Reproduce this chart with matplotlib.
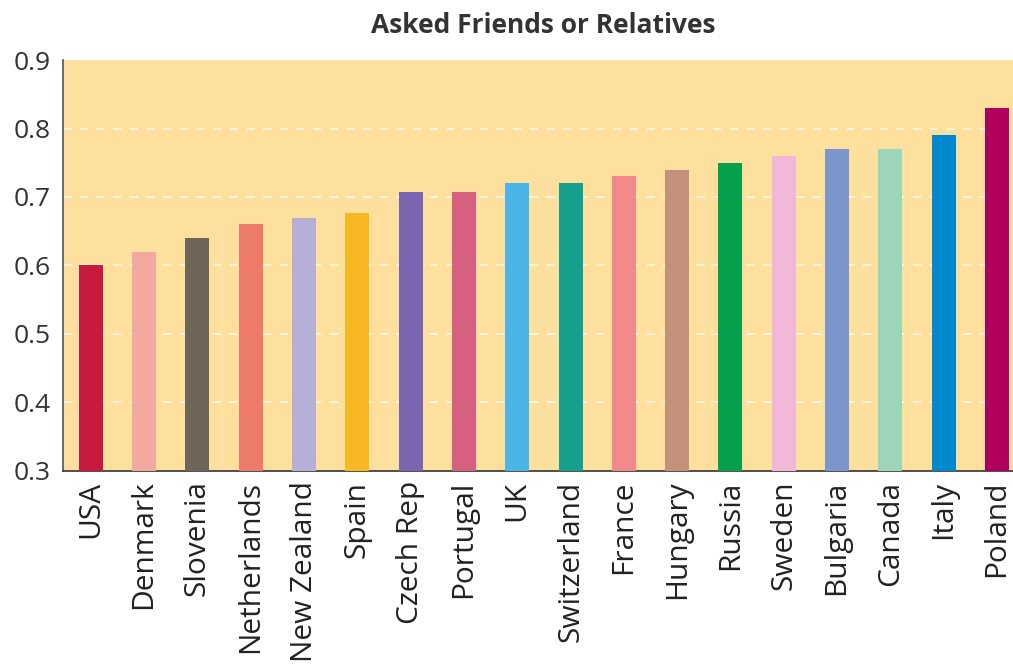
import matplotlib
matplotlib.use('Agg')
import matplotlib.pyplot as plt
import numpy as np

plt.rcParams['font.family'] = ['Open Sans', 'DejaVu Sans']

# data
countries = ['USA', 'Denmark', 'Slovenia', 'Netherlands', 'New Zealand', 'Spain',
             'Czech Rep', 'Portugal', 'UK', 'Switzerland', 'France', 'Hungary',
             'Russia', 'Sweden', 'Bulgaria', 'Canada', 'Italy', 'Poland']
values = [0.60, 0.62, 0.64, 0.66, 0.67, 0.677,
          0.707, 0.707, 0.72, 0.72, 0.73, 0.74,
          0.75, 0.76, 0.77, 0.77, 0.79, 0.83]
colors = ['#C8193F', '#F4A9A0', '#6E6556', '#EE7A6A', '#B5AED5', '#F8B823',
          '#7A66B0', '#D5607F', '#4BB4E6', '#15A08E', '#F28A8C', '#C4917A',
          '#06A04C', '#F2B8D8', '#7B96CC', '#9DD5B8', '#0288CF', '#B0005F']
yticks = [0.3, 0.4, 0.5, 0.6, 0.7, 0.8, 0.9]

fig = plt.figure(figsize=(10.13, 6.67), dpi=100)
ax = fig.add_axes([0.062, 0.294, 0.938, 0.616])
ax.set_facecolor('#FDE09E')

x = np.arange(len(countries))
ax.bar(x, values, width=0.45, color=colors, zorder=3)

# white dashed grid
for y in yticks[1:-1]:
    ax.axhline(y, color='white', lw=1.5, ls=(0, (4, 4)), alpha=0.6, zorder=2)

ax.set_ylim(0.3, 0.9)
ax.set_xlim(-0.525, 17.3)
ax.set_yticks(yticks)
ax.set_yticklabels([f'{v:.1f}' for v in yticks], fontsize=19, color='#333333')
ax.set_xticks(x)
ax.set_xticklabels(countries, rotation=90, fontsize=21.5, color='#222222', va='top')
ax.tick_params(axis='y', length=0, pad=9)
ax.tick_params(axis='x', length=0, pad=7)

for s in ['top', 'right']:
    ax.spines[s].set_visible(False)
ax.spines['left'].set_color('#555555')
ax.spines['bottom'].set_color('#333333')
ax.spines['left'].set_linewidth(1.2)
ax.spines['bottom'].set_linewidth(1.2)

fig.text(0.536, 0.962, 'Asked Friends or Relatives', ha='center', va='center',
         fontsize=19, fontweight='bold', color='#333333')

plt.savefig('out.png', dpi=100)
